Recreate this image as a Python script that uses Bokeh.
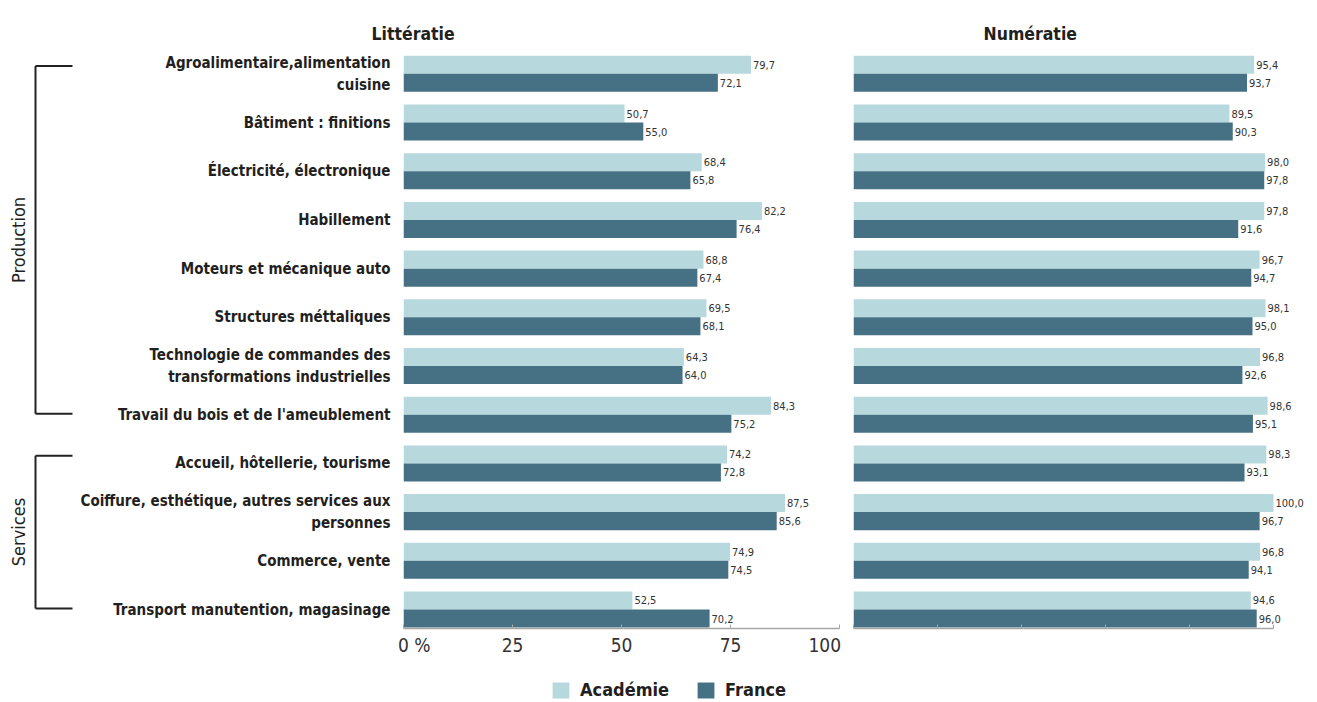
import numpy as np
from bokeh.plotting import figure
from bokeh.models import (ColumnDataSource, Range1d, FixedTicker, LabelSet,
                          Legend, LegendItem)
from bokeh.layouts import row, column
from bokeh.embed import file_html
from bokeh.resources import INLINE
from bokeh.core.properties import value

# ---------------- data ----------------
categories = [
    "Agroalimentaire,alimentation\ncuisine",
    "Bâtiment : finitions",
    "Électricité, électronique",
    "Habillement",
    "Moteurs et mécanique auto",
    "Structures méttaliques",
    "Technologie de commandes des\ntransformations industrielles",
    "Travail du bois et de l'ameublement",
    "Accueil, hôtellerie, tourisme",
    "Coiffure, esthétique, autres services aux\npersonnes",
    "Commerce, vente",
    "Transport manutention, magasinage",
]
groups = ["Production", "Services"]
group_sizes = [8, 4]
series = ["Académie", "France"]

lit_academie = [79.7, 50.7, 68.4, 82.2, 68.8, 69.5, 64.3, 84.3, 74.2, 87.5, 74.9, 52.5]
lit_france   = [72.1, 55.0, 65.8, 76.4, 67.4, 68.1, 64.0, 75.2, 72.8, 85.6, 74.5, 70.2]
num_academie = [95.4, 89.5, 98.0, 97.8, 96.7, 98.1, 96.8, 98.6, 98.3, 100.0, 96.8, 94.6]
num_france   = [93.7, 90.3, 97.8, 91.6, 94.7, 95.0, 92.6, 95.1, 93.1, 96.7, 94.1, 96.0]

lit_ticks = [0, 25, 50, 75, 100]
lit_tick_labels = ["0 %", "25", "50", "75", "100"]
num_ticks = [0, 20, 40, 60, 80, 100]

# ---------------- style ----------------
FONT = "'DejaVu Sans Condensed', Roboto, sans-serif"
TXT = "#231f20"
C_LIGHT = "#b7d9dd"
C_DARK = "#467084"
AXIS_C = "#a6a6a6"
H = 660
TOP, BOTTOM = 49, 32
BAR_H = 0.37
NB = "\u00a0"

idx = np.arange(len(categories))
y_range = Range1d(start=11.39, end=-0.5)


def fmt(v):
    return f"{v:.1f}".replace(".", ",")


def make_source(ac, fr):
    return ColumnDataSource(dict(
        y_ac=idx - BAR_H / 2, y_fr=idx + BAR_H / 2,
        ac=ac, fr=fr,
        ac_lbl=[fmt(v) for v in ac], fr_lbl=[fmt(v) for v in fr],
    ))


def panel(width, ac, fr, title, title_offset, border_left, border_right, xend):
    p = figure(width=width, height=H, x_range=Range1d(0, xend), y_range=y_range,
               output_backend="svg", toolbar_location=None,
               min_border_left=border_left, min_border_right=border_right,
               min_border_top=TOP, min_border_bottom=BOTTOM)
    p.outline_line_color = None
    p.grid.visible = False
    p.title.text = title
    p.title.align = "left"
    p.title.offset = title_offset
    p.title.text_font = FONT
    p.title.text_font_size = "17.5px"
    p.title.text_font_style = "bold"
    p.title.text_color = TXT
    p.title.standoff = 12
    src = make_source(ac, fr)
    p.hbar(y="y_ac", left=0, right="ac", height=BAR_H, source=src,
           fill_color=C_LIGHT, line_color=None)
    p.hbar(y="y_fr", left=0, right="fr", height=BAR_H, source=src,
           fill_color=C_DARK, line_color=None)
    for ycol, tcol in (("y_ac", "ac_lbl"), ("y_fr", "fr_lbl")):
        xcol = tcol.split("_")[0]
        ls = LabelSet(x=xcol, y=ycol, text=tcol, source=src, x_offset=2,
                      text_baseline="middle", text_align="left",
                      text_font=value(FONT), text_font_size=value("11px"),
                      text_color=value("#333333"))
        p.add_layout(ls)
    xa = p.xaxis[0]
    xa.bounds = (0, 100)
    xa.axis_line_color = AXIS_C
    xa.axis_line_width = 1.5
    xa.major_tick_line_color = AXIS_C
    xa.major_tick_in = 4
    xa.major_tick_out = 0
    xa.minor_tick_line_color = None
    return p


# ---------------- left (Littératie) ----------------
pl = panel(772, lit_academie, lit_france, "Littératie", -32, 329, 7, 100)
xa = pl.xaxis[0]
xa.ticker = FixedTicker(ticks=lit_ticks)
pads = [NB * 4 + lit_tick_labels[0]] + lit_tick_labels[1:-1] + [lit_tick_labels[-1] + NB]
xa.major_label_overrides = {t: s for t, s in zip(lit_ticks, pads)}
xa.major_label_standoff = 5
xa.major_label_text_font = FONT
xa.major_label_text_font_size = "19px"
xa.major_label_text_color = "#333333"

ya = pl.yaxis[0]
ya.ticker = FixedTicker(ticks=list(idx))
ya.major_label_overrides = {int(i): c for i, c in zip(idx, categories)}
ya.axis_line_color = None
ya.major_tick_line_color = None
ya.minor_tick_line_color = None
ya.major_tick_out = 0
ya.major_tick_in = 0
ya.major_label_standoff = 13
ya.major_label_text_font = FONT
ya.major_label_text_font_size = "15px"
ya.major_label_text_font_style = "bold"
ya.major_label_text_color = TXT

# ---------------- right (Numératie) ----------------
RW = 462
PX100 = 420  # pixels spanned by 0..100 on the right panel
pr = panel(RW, num_academie, num_france, "Numératie", 130, 7, 0, 100 * (RW - 7) / PX100)
pr.xaxis[0].ticker = FixedTicker(ticks=num_ticks)
pr.xaxis[0].major_label_overrides = {t: "" for t in num_ticks}
pr.xaxis[0].major_label_standoff = 0
pr.yaxis.visible = False

# ---------------- brackets ----------------
pb = figure(width=74, height=H, x_range=Range1d(0, 74), y_range=y_range,
            output_backend="svg", toolbar_location=None,
            x_axis_type=None, y_axis_type=None,
            min_border_left=0, min_border_right=0,
            min_border_top=TOP, min_border_bottom=BOTTOM)
pb.outline_line_color = None
pb.grid.visible = False
start = 0
for g, size in zip(groups, group_sizes):
    y0 = start - 0.16
    y1 = start + size - 1 - 0.02
    pb.segment(x0=[35, 35, 35], y0=[y0, y0, y1], x1=[35, 72, 72], y1=[y1, y0, y1],
               line_color="#222222", line_width=2)
    pb.text(x=[18], y=[(y0 + y1) / 2], text=[g], angle=np.pi / 2,
            text_align="center", text_baseline="middle",
            text_font=value(FONT), text_font_size="18px", text_color=TXT)
    start += size

# ---------------- legend ----------------
lf = figure(width=74 + 772 + RW, height=40, x_range=Range1d(0, 1), y_range=Range1d(0, 1),
            output_backend="svg", toolbar_location=None,
            x_axis_type=None, y_axis_type=None,
            min_border_left=0, min_border_right=0, min_border_top=0, min_border_bottom=0)
lf.outline_line_color = None
lf.grid.visible = False
# off-screen proxies: only used to give the legend its swatches
r1 = lf.hbar(y=[50], left=[50], right=[51], height=0.5, fill_color=C_LIGHT, line_color=None)
r2 = lf.hbar(y=[50], left=[50], right=[51], height=0.5, fill_color=C_DARK, line_color=None)
leg = Legend(items=[LegendItem(label=series[0], renderers=[r1]),
                    LegendItem(label=series[1], renderers=[r2])],
             orientation="horizontal", location=(550, 0),
             glyph_width=21, glyph_height=20, label_height=20, label_standoff=9,
             spacing=26, padding=0, margin=0, border_line_color=None,
             background_fill_alpha=0, label_text_font=FONT,
             label_text_font_size="18px", label_text_font_style="bold",
             label_text_color=TXT)
lf.add_layout(leg)

layout = column(row(pb, pl, pr), lf)
open("out.html", "w").write(file_html(layout, INLINE))
